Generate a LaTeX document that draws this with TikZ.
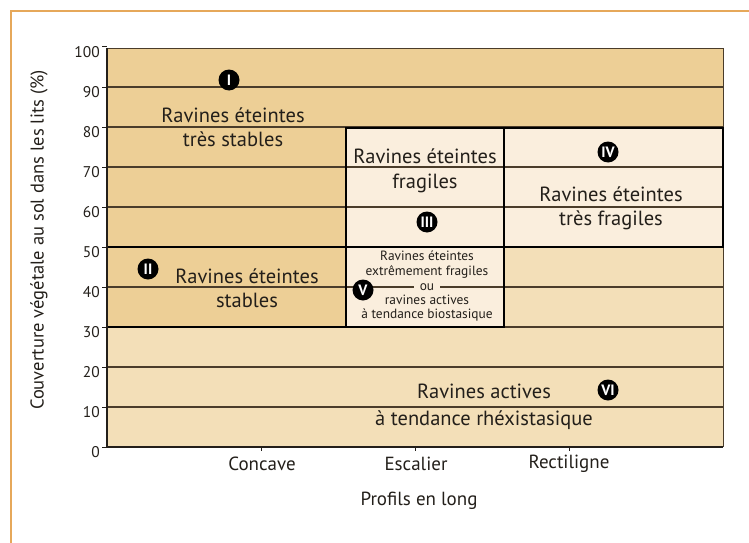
\documentclass[tikz,border=0pt]{standalone}
\usepackage{fontspec}
\setmainfont{PT Sans}
\definecolor{darktan}{HTML}{EDCF96}
\definecolor{midtan}{HTML}{F3DFB8}
\definecolor{lighttan}{HTML}{FAEEDD}
\definecolor{framec}{HTML}{E6A85A}
\definecolor{gridc}{HTML}{4A3C2A}
\definecolor{txt}{HTML}{231F1A}
\begin{document}
\begin{tikzpicture}[x=1pt,y=-1pt,
  gridline/.style={line width=1.1pt, draw=gridc},
  heavy/.style={line width=2.2pt, draw=black, line cap=rect},
  axisline/.style={line width=1.2pt, draw=txt},
  lab/.style={anchor=base, inner sep=0pt, text=txt, font=\fontsize{20.5}{24}\selectfont},
  smalllab/.style={anchor=base, inner sep=0pt, text=txt, font=\fontsize{13.4}{15}\selectfont},
  ticklab/.style={anchor=east, inner sep=0pt, text=txt, font=\fontsize{15.5}{17}\selectfont},
  catlab/.style={inner sep=0pt, text=txt, font=\fontsize{19}{21}\selectfont},
  numc/.style={circle, fill=black, text=white, inner sep=0pt, minimum size=21pt, font=\bfseries\fontsize{15}{15}\selectfont}]
\useasboundingbox (0,0) rectangle (749,543);
% frame
\draw[framec, line width=1.2pt] (11,543) -- (11,11) -- (749,11);
% fills
\fill[darktan] (107,48) rectangle (723,128);
\fill[darktan] (107,128) rectangle (346,327);
\fill[lighttan] (346,128) rectangle (723,247);
\fill[lighttan] (346,247) rectangle (504,327);
\fill[midtan] (107,327) rectangle (723,447);
\fill[midtan] (504,247) rectangle (723,327);
% grid lines
\foreach \v in {1,...,9} {
  \draw[gridline] (107,{447-40*\v}) -- (723,{447-40*\v});
}
\draw[gridline, line width=0.8pt] (107,48) -- (723,48);
\draw[gridline, line width=1pt] (723,48) -- (723,447);
% heavy borders
\draw[heavy] (346,128) -- (723,128);
\draw[heavy] (107,247) -- (723,247);
\draw[heavy] (107,327) -- (504,327);
\draw[heavy] (346,128) -- (346,327);
\draw[heavy] (504,128) -- (504,327);
\draw[heavy] (723,128) -- (723,247);
% axes
\draw[axisline] (107,48) -- (107,447) -- (723,447);
\foreach \v in {0,...,10} {
  \draw[axisline, line width=1pt] (102,{447-40*\v}) -- (107,{447-40*\v});
  \node[ticklab] (t\v) at (100,{452-40*\v}) {\the\numexpr\v*10\relax};
}
\foreach \c in {1,2,3} {
  \draw[axisline, line width=1pt] ({107+154*\c},447) -- ({107+154*\c},451);
}
\node[catlab] (cc) at (262,464) {Concave};
\node[catlab] (ce) at (416,464) {Escalier};
\node[catlab] (cr) at (569,464) {Rectiligne};
\node[catlab] (xl) at (419,501) {Profils en long};
\node[catlab, rotate=90, font=\fontsize{18.5}{20}\selectfont] (yl) at (39,240) {Couverture végétale au sol dans les lits (\%)};
% region texts
\node[lab] (i1) at (233,122) {Ravines éteintes};
\node[lab] (i2) at (233,146) {très stables};
\node[lab] (iii1) at (425,163) {Ravines éteintes};
\node[lab] (iii2) at (425,188) {fragiles};
\node[lab] (iv1) at (611,201) {Ravines éteintes};
\node[lab] (iv2) at (611,225) {très fragiles};
\node[lab] (ii1) at (247,283) {Ravines éteintes};
\node[lab] (ii2) at (247,307) {stables};
\node[lab] (vi1) at (484,398) {Ravines actives};
\node[lab] (vi2) at (484,425) {à tendance rhéxistasique};
\node[smalllab] (v1) at (427,260) {Ravines éteintes};
\node[smalllab] (v2) at (427,275) {extrêmement fragiles};
\node[smalllab, fill=lighttan, inner xsep=6pt, inner ysep=1pt] (v3) at (427,290) {ou};
\node[smalllab] (v4) at (427,304) {ravines actives};
\node[smalllab] (v5) at (427,318) {à tendance biostasique};
% numerals
\node[numc] (nI) at (229,80) {I};
\node[numc] (nII) at (148,269) {II};
\node[numc] (nIII) at (427,222) {III};
\node[numc] (nIV) at (608,152) {IV};
\node[numc] (nV) at (363,290) {V};
\node[numc] (nVI) at (608,390) {VI};
\end{tikzpicture}
\end{document}
